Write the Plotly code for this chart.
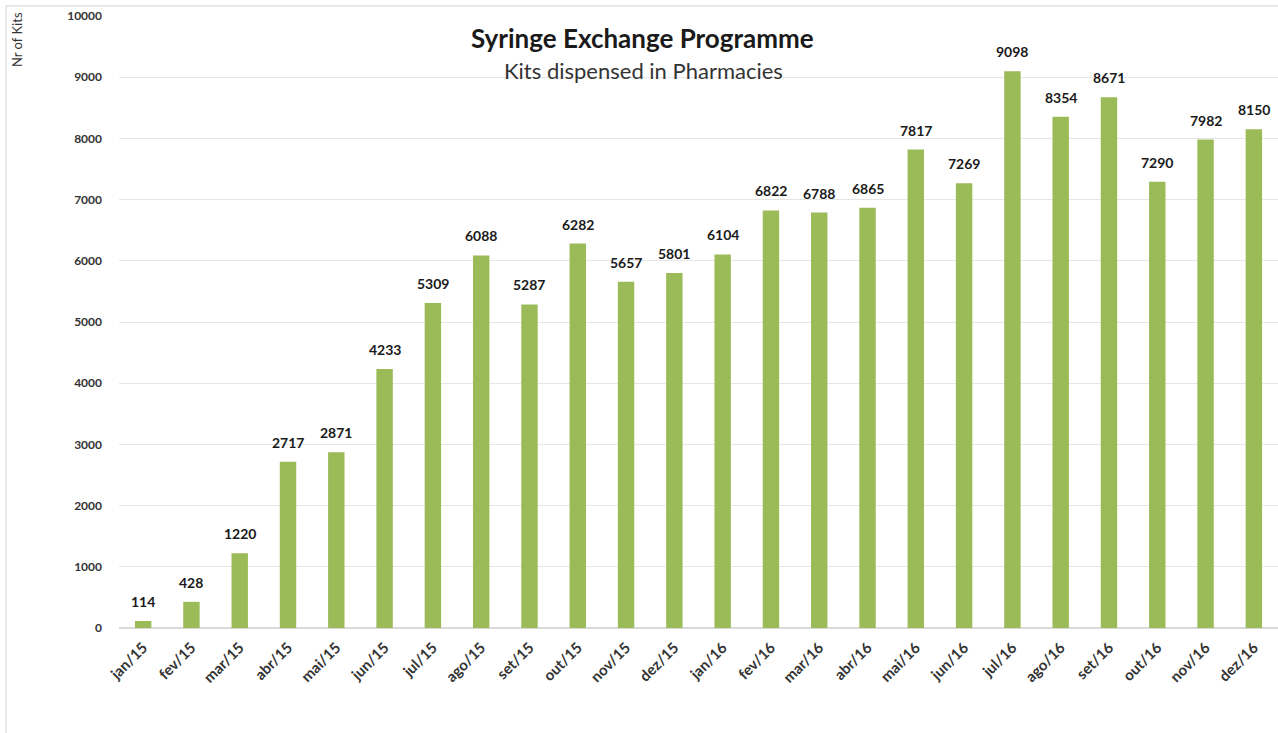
import plotly.graph_objects as go

months = ["jan/15", "fev/15", "mar/15", "abr/15", "mai/15", "jun/15", "jul/15", "ago/15",
          "set/15", "out/15", "nov/15", "dez/15", "jan/16", "fev/16", "mar/16", "abr/16",
          "mai/16", "jun/16", "jul/16", "ago/16", "set/16", "out/16", "nov/16", "dez/16"]
kits = [114, 428, 1220, 2717, 2871, 4233, 5309, 6088, 5287, 6282, 5657, 5801,
        6104, 6822, 6788, 6865, 7817, 7269, 9098, 8354, 8671, 7290, 7982, 8150]

FONT = "Lato"
W, H = 1278, 733
L, R, T, B = 119, 0, 16, 105

fig = go.Figure()
fig.add_trace(go.Bar(
    x=months, y=kits,
    marker=dict(color="#9BBB59", line=dict(width=0)),
    cliponaxis=False,
))

pw = W - L - R
ph = H - T - B

labels = [dict(x=m, y=v, text=str(v), xref="x", yref="y", showarrow=False,
               yanchor="bottom", yshift=9,
               font=dict(family=FONT, size=14, color="#1a1a1a", weight="bold"))
          for m, v in zip(months, kits)]

fig.update_layout(
    width=W, height=H,
    margin=dict(l=L, r=R, t=T, b=B),
    paper_bgcolor="white", plot_bgcolor="white",
    bargap=0.66,
    showlegend=False,
    xaxis=dict(
        type="category", tickangle=-45,
        tickfont=dict(family=FONT, size=15, color="#333333", weight="bold"),
        showgrid=False, showline=True, linecolor="#d9d9d9", ticks="",
        range=[-0.5, 23.5], ticklabelstandoff=4,
    ),
    yaxis=dict(
        range=[0, 10000], dtick=1000, tickformat="d",
        tickfont=dict(family=FONT, size=12, color="#333333", weight="bold"),
        showgrid=True, gridcolor="#e6e6e6", gridwidth=1,
        zeroline=True, zerolinecolor="#d9d9d9",
        ticklabelstandoff=16,
    ),
    annotations=labels + [
        dict(text="Syringe Exchange Programme", xref="paper", yref="paper",
             x=(642 - L) / pw, y=(H - B - 38) / ph, showarrow=False,
             font=dict(family=FONT, size=26, color="#1a1a1a", weight="bold"),
             xanchor="center", yanchor="middle"),
        dict(text="Kits dispensed in Pharmacies", xref="paper", yref="paper",
             x=(643 - L) / pw, y=(H - B - 70) / ph, showarrow=False,
             font=dict(family=FONT, size=22, color="#333333"),
             xanchor="center", yanchor="middle"),
        dict(text="Nr of Kits", xref="paper", yref="paper",
             x=(17 - L) / pw, y=(H - B - 40) / ph, showarrow=False,
             textangle=-90,
             font=dict(family=FONT, size=13, color="#333333"),
             xanchor="center", yanchor="middle"),
    ],
    shapes=[
        dict(type="rect", xref="paper", yref="paper",
             x0=(6 - L) / pw, x1=(W + 10 - L) / pw,
             y0=(H - B - (H + 10)) / ph, y1=(H - B - 6) / ph,
             line=dict(color="#d0d0d0", width=1), fillcolor="rgba(0,0,0,0)", layer="below"),
    ],
)

fig.write_html("out.html")
